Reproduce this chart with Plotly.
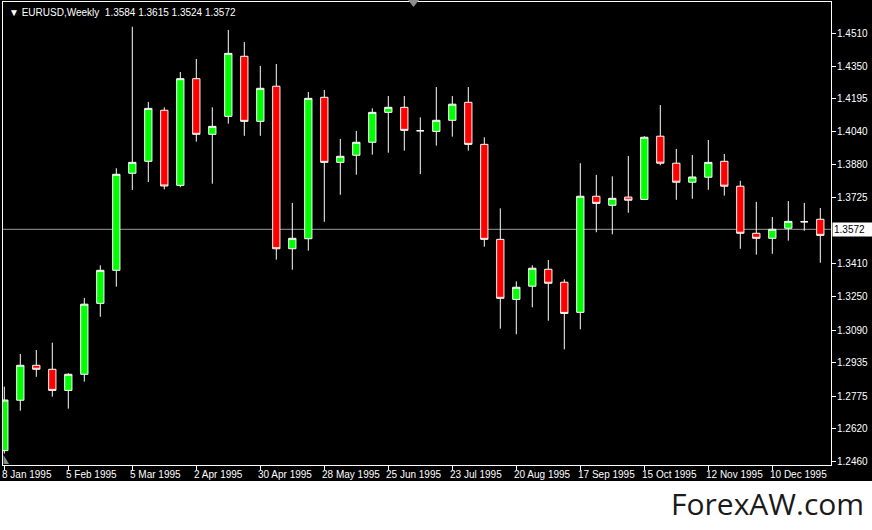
import pandas as pd
import plotly.graph_objects as go

# ---- data (weekly EURUSD 1995) ----
week_start = "1995-01-08"
n_weeks = 52

open_ = [1.2514, 1.2755, 1.2922, 1.2903, 1.2802, 1.2879, 1.3218, 1.3376, 1.3840, 1.3897,
         1.4141, 1.3782, 1.4292, 1.4026, 1.4112, 1.4399, 1.4088, 1.4256, 1.3479, 1.3527,
         1.4203, 1.3892, 1.3926, 1.3988, 1.4131, 1.4155, 1.4043, 1.4040, 1.4093, 1.4179,
         1.3978, 1.3524, 1.3237, 1.3300, 1.3381, 1.3319, 1.3175, 1.3730, 1.3687, 1.3726,
         1.3715, 1.4017, 1.3888, 1.3797, 1.3821, 1.3897, 1.3778, 1.3553, 1.3529, 1.3577,
         1.3608, 1.3620]
high = [1.2820, 1.2976, 1.2995, 1.3030, 1.2884, 1.3244, 1.3400, 1.3864, 1.4540, 1.4181,
        1.4155, 1.4324, 1.4386, 1.4155, 1.4525, 1.4467, 1.4353, 1.4362, 1.3698, 1.4228,
        1.4238, 1.4004, 1.4042, 1.4150, 1.4209, 1.4209, 1.4107, 1.4252, 1.4209, 1.4252,
        1.4012, 1.3672, 1.3323, 1.3400, 1.3425, 1.3333, 1.3888, 1.3832, 1.3825, 1.3922,
        1.4017, 1.4166, 1.3956, 1.3927, 1.3999, 1.3932, 1.3804, 1.3703, 1.3631, 1.3707,
        1.3698, 1.3674]
low = [1.2500, 1.2705, 1.2867, 1.2772, 1.2715, 1.2844, 1.3154, 1.3298, 1.3760, 1.3798,
       1.3763, 1.3773, 1.3991, 1.3790, 1.4077, 1.4019, 1.4019, 1.3427, 1.3379, 1.3470,
       1.3608, 1.3737, 1.3833, 1.3929, 1.3938, 1.3948, 1.3836, 1.3972, 1.4015, 1.3948,
       1.3489, 1.3097, 1.3070, 1.3199, 1.3135, 1.2998, 1.3094, 1.3558, 1.3548, 1.3651,
       1.3712, 1.3878, 1.3713, 1.3718, 1.3761, 1.3733, 1.3479, 1.3451, 1.3455, 1.3518,
       1.3565, 1.3412]
close = [1.2756, 1.2922, 1.2903, 1.2802, 1.2879, 1.3214, 1.3376, 1.3835, 1.3892, 1.4150,
         1.3779, 1.4292, 1.4026, 1.4064, 1.4413, 1.4088, 1.4246, 1.3479, 1.3529, 1.4198,
         1.3892, 1.3921, 1.3988, 1.4131, 1.4155, 1.4045, 1.4043, 1.4093, 1.4170, 1.3978,
         1.3524, 1.3242, 1.3295, 1.3386, 1.3314, 1.3170, 1.3730, 1.3696, 1.3720, 1.3711,
         1.4012, 1.3888, 1.3797, 1.3822, 1.3892, 1.3778, 1.3553, 1.3529, 1.3572, 1.3610,
         1.3608, 1.3543]

price_ticks = [1.4510, 1.4350, 1.4195, 1.4040, 1.3880, 1.3725, 1.3410, 1.3250,
               1.3090, 1.2935, 1.2775, 1.2620, 1.2460]
date_ticks = ["1995-01-08", "1995-02-05", "1995-03-05", "1995-04-02", "1995-04-30",
              "1995-05-28", "1995-06-25", "1995-07-23", "1995-08-20", "1995-09-17",
              "1995-10-15", "1995-11-12", "1995-12-10"]
date_tick_text = ["8 Jan 1995", "5 Feb 1995", "5 Mar 1995", "2 Apr 1995", "30 Apr 1995",
                  "28 May 1995", "25 Jun 1995", "23 Jul 1995", "20 Aug 1995", "17 Sep 1995",
                  "15 Oct 1995", "12 Nov 1995", "10 Dec 1995"]
current_price = 1.3572
header = "▼ EURUSD,Weekly  1.3584 1.3615 1.3524 1.3572"
watermark = "ForexAW.com"

dates = pd.date_range(week_start, periods=n_weeks, freq="7D")

W, H = 872, 530
ML, MR, MT, MB = 3, 41, 2, 65
PW, PH = W - ML - MR, H - MT - MB


def px_x(x):
    return (x - ML) / PW


def px_y(y):
    return (H - MB - y) / PH


font_main = "Liberation Sans"
tick_font = dict(family=font_main, size=10, color="white")

fig = go.Figure()
fig.add_trace(go.Candlestick(
    x=dates, open=open_, high=high, low=low, close=close,
    increasing=dict(line=dict(color="white", width=1), fillcolor="#00ff00"),
    decreasing=dict(line=dict(color="white", width=1), fillcolor="#ff0000"),
    whiskerwidth=0,
    showlegend=False,
))

shapes = [
    # current price line
    dict(type="line", xref="paper", yref="y", x0=0, x1=1, y0=current_price, y1=current_price,
         line=dict(color="#9a9a9a", width=1), layer="below"),
    # white strip at the bottom
    dict(type="rect", xref="paper", yref="paper", x0=px_x(-5), x1=px_x(W + 5),
         y0=px_y(481), y1=px_y(H + 5), fillcolor="white", line=dict(width=0), layer="above"),
    # small gray markers
    dict(type="path", xref="paper", yref="paper",
         path=f"M {px_x(408)},{px_y(0)} L {px_x(419)},{px_y(0)} L {px_x(413.5)},{px_y(7)} Z",
         fillcolor="#8c8c8c", line=dict(width=0)),
    dict(type="path", xref="paper", yref="paper",
         path=f"M {px_x(3.5)},{px_y(455)} L {px_x(3.5)},{px_y(464)} L {px_x(9)},{px_y(464)} Z",
         fillcolor="#8c8c8c", line=dict(width=0)),
]

annotations = [
    dict(text=header, xref="paper", yref="paper", x=px_x(7), y=px_y(12),
         xanchor="left", yanchor="middle", showarrow=False,
         font=dict(family=font_main, size=10, color="white")),
    dict(text=watermark, xref="paper", yref="paper", x=px_x(866), y=px_y(503),
         xanchor="right", yanchor="middle", showarrow=False,
         font=dict(family="Open Sans", size=30, color="#1a1a1a")),
]
# x tick labels (left-aligned at each tick, MetaTrader style)
for d, t in zip(date_ticks, date_tick_text):
    annotations.append(dict(text=t, xref="x", yref="paper", x=d, y=px_y(474),
                            xanchor="left", yanchor="middle", showarrow=False, xshift=-4,
                            font=tick_font))
# y tick labels on the right
for v in price_ticks:
    annotations.append(dict(text=f"{v:.4f}", xref="paper", yref="y", x=1, y=v,
                            xanchor="left", yanchor="middle", showarrow=False, xshift=4,
                            font=tick_font))
# current price box
annotations.append(dict(text="1.3572", xref="paper", yref="y", x=1, y=current_price,
                        xanchor="left", yanchor="middle", showarrow=False, bgcolor="white",
                        xshift=1, font=dict(family=font_main, size=10, color="black"),
                        borderpad=1, width=40, align="left"))

fig.update_layout(
    width=W, height=H,
    margin=dict(l=ML, r=MR, t=MT, b=MB, autoexpand=False),
    paper_bgcolor="black", plot_bgcolor="black",
    shapes=shapes, annotations=annotations,
    xaxis=dict(
        type="date", automargin=False,
        range=["1995-01-07 10:21", "1996-01-04 16:21"],
        rangeslider=dict(visible=False),
        showgrid=False, zeroline=False,
        showline=True, linecolor="white", linewidth=1, mirror=True,
        tickvals=date_ticks, showticklabels=False,
        ticks="outside", ticklen=4, tickcolor="white",
    ),
    yaxis=dict(
        side="right", automargin=False,
        range=[1.24454, 1.46585],
        showgrid=False, zeroline=False,
        showline=True, linecolor="white", linewidth=1, mirror=True,
        tickvals=price_ticks, showticklabels=False,
        ticks="outside", ticklen=4, tickcolor="white",
    ),
    boxgap=0.35,
)

fig.write_html("out.html",
               config={"displayModeBar": False},
               post_script="document.body.style.margin='0';document.body.style.overflow='hidden';")
